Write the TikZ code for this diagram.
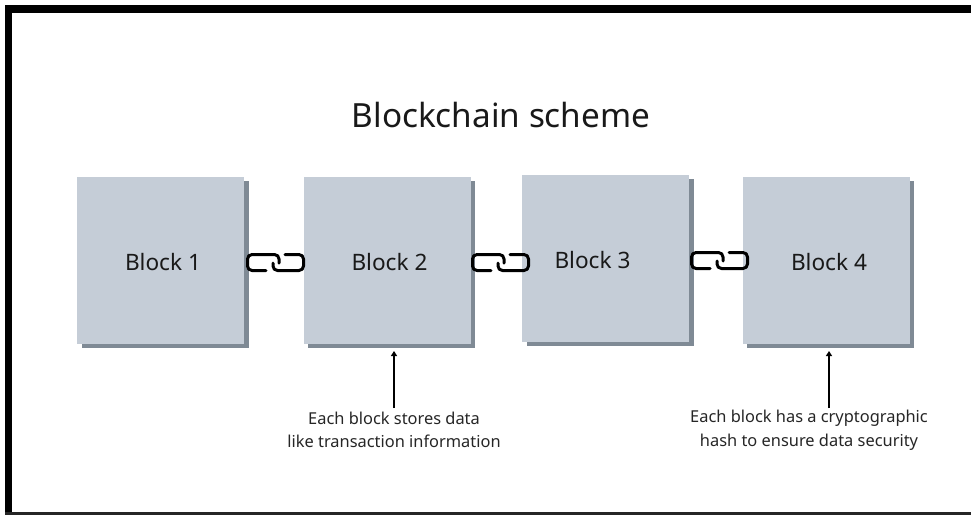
\documentclass[tikz,border=0pt]{standalone}
\usepackage{fontspec}
\setmainfont{Noto Sans}
\usetikzlibrary{arrows.meta}
\definecolor{blockfill}{HTML}{C5CDD7}
\definecolor{blockshade}{HTML}{7F8A95}
\tikzset{
  px/.style={x=1pt,y=-1pt},
  block/.style={fill=blockfill,minimum width=167pt,minimum height=167pt,inner sep=0pt},
  blocklabel/.style={font=\fontsize{22.6}{26}\selectfont,text=black!90,inner sep=0pt},
  shade box/.style={fill=blockshade},
  note/.style={align=center,font=\fontsize{16.4}{23.5}\selectfont,text=black!85,inner sep=0pt},
  pointer/.style={draw=black,line width=1.4pt,-{Triangle[length=5pt,width=6pt]}},
  linkpart/.style={draw=black,line width=3pt,line cap=round,line join=round,rounded corners=4.5pt}
}
\newcommand{\chainlink}[1]{%
  \begin{scope}[shift={(#1)}]
    \draw[linkpart] (-9,8.5) -- (-27.5,8.5) -- (-27.5,-7.5) -- (4,-7.5) -- (4,1);
    \draw[linkpart] (-2,1) -- (-2,8.5) -- (28.5,8.5) -- (28.5,-7.5) -- (10,-7.5);
  \end{scope}}
\begin{document}
\begin{tikzpicture}[px]
\useasboundingbox (0,0) rectangle (971,515);
\fill[white] (0,0) rectangle (971,515);
\fill[black] (5,5) rectangle (971,13);
\fill[black] (5,5) rectangle (12,515);
\fill[black!85] (5,512) rectangle (971,515);
\node[font=\fontsize{33.3}{38}\selectfont,text=black!90,inner sep=0pt] (title) at (501,115) {Blockchain scheme};
\foreach \cx/\cy in {160.5/260,387/260,605.5/258,826/260}{
  \fill[shade box] (\cx-79,\cy-79) rectangle (\cx+88,\cy+88);
}
\node[block] (b1) at (160.5,260) {};
\node[block] (b2) at (387,260) {};
\node[block] (b3) at (605.5,258) {};
\node[block] (b4) at (826,260) {};
\node[blocklabel] (t1) at (163,262) {Block 1};
\node[blocklabel] (t2) at (389.5,262) {Block 2};
\node[blocklabel] (t3) at (592.5,260) {Block 3};
\node[blocklabel] (t4) at (829,262) {Block 4};
\coordinate (l1) at (275,262);
\coordinate (l2) at (500,262);
\coordinate (l3) at (719,260);
\chainlink{l1}
\chainlink{l2}
\chainlink{l3}
\node[note] (n2) at (394,430) {Each block stores data\\like transaction information};
\node[note] (n4) at (809,430) {Each block has a cryptographic\\hash to ensure data security};
\coordinate (p2) at (394,351);
\coordinate (p4) at (829,351);
\draw[pointer] (394,408) -- (p2);
\draw[pointer] (829,408) -- (p4);
\end{tikzpicture}
\end{document}
